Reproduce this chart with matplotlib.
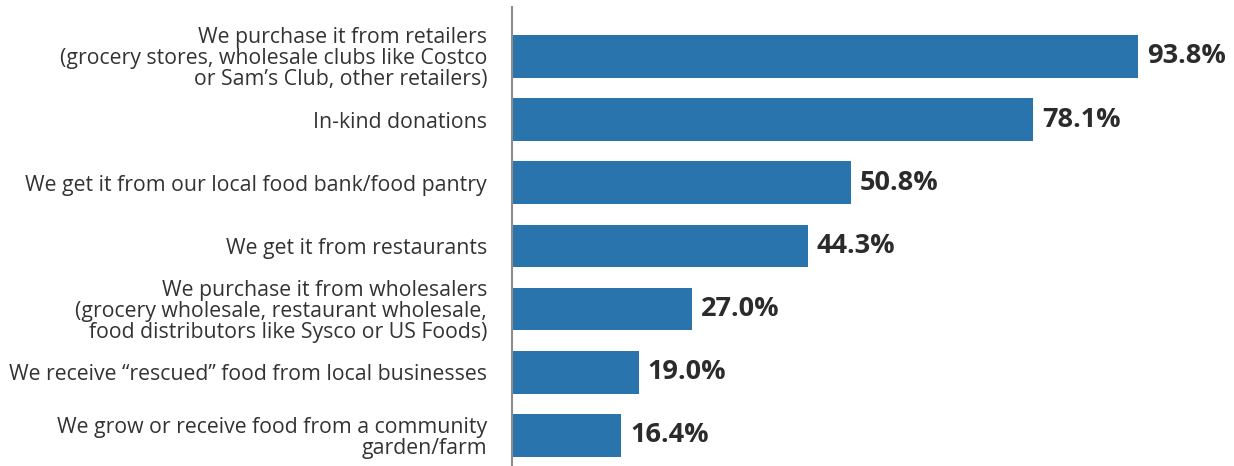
import matplotlib
matplotlib.use('Agg')
import matplotlib.pyplot as plt

plt.rcParams['font.family'] = ['Open Sans', 'DejaVu Sans']

labels = [
    'We purchase it from retailers\n(grocery stores, wholesale clubs like Costco\nor Sam\u2019s Club, other retailers)',
    'In-kind donations',
    'We get it from our local food bank/food pantry',
    'We get it from restaurants',
    'We purchase it from wholesalers\n(grocery wholesale, restaurant wholesale,\nfood distributors like Sysco or US Foods)',
    'We receive \u201crescued\u201d food from local businesses',
    'We grow or receive food from a community\ngarden/farm',
]
values = [93.8, 78.1, 50.8, 44.3, 27.0, 19.0, 16.4]

bar_color = '#2a74ae'
text_color = '#333333'

fig = plt.figure(figsize=(12.34, 4.66), dpi=100)
ax = fig.add_axes([512 / 1234, 0.0, 1 - 512 / 1234, 1 - 7 / 466])

pos = list(range(len(values)))
ax.barh(pos, values, height=0.676, color=bar_color)

for p, v in zip(pos, values):
    ax.text(v + 1.35, p, f'{v:.1f}%', va='center', ha='left',
            fontsize=19.5, fontweight='bold', color='#2b2b2b')

ax.set_yticks(pos)
ax.set_yticklabels(labels, fontsize=15.3, color=text_color, linespacing=1.0)
ax.tick_params(axis='y', length=0, pad=18)
ax.set_xticks([])

ax.set_xlim(0, 108.2)
ax.set_ylim(6.484, -0.782)

for s in ['top', 'right', 'bottom']:
    ax.spines[s].set_visible(False)
ax.spines['left'].set_color('#8c8c8c')
ax.spines['left'].set_linewidth(1.5)

fig.savefig('out.png', dpi=100)
